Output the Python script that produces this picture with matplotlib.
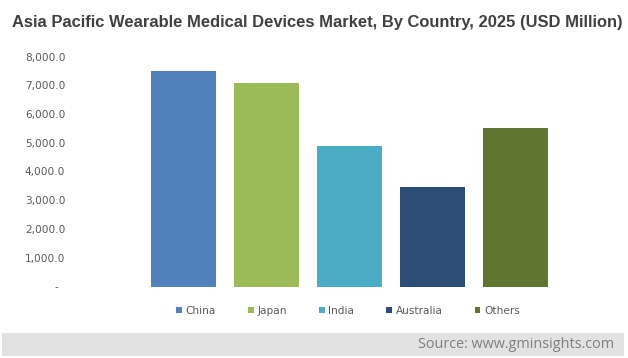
import matplotlib
matplotlib.use("Agg")
import matplotlib.pyplot as plt
from matplotlib.patches import Rectangle
from matplotlib.ticker import FuncFormatter, MultipleLocator
import numpy as np

countries = ["China", "Japan", "India", "Australia", "Others"]
values = [7500, 7080, 4900, 3450, 5500]
colors = ["#4F81BD", "#9BBB59", "#4BACC6", "#2C4D75", "#5F7530"]

title = "Asia Pacific Wearable Medical Devices Market, By Country, 2025 (USD Million)"
source = "Source: www.gminsights.com"

W, H = 628, 358
fig = plt.figure(figsize=(W / 100, H / 100), dpi=100)

ax_l, ax_r = 100, 600
ax_b, ax_t = 286.5, 56.5
ax = fig.add_axes([ax_l / W, (H - ax_b) / H, (ax_r - ax_l) / W, (ax_b - ax_t) / H])

unit = 83.0
c0 = 183.5
ax.set_xlim(-(c0 - ax_l) / unit, (ax_r - c0) / unit)
ax.set_ylim(0, 8000)

x = np.arange(len(countries))
bars = ax.bar(x, values, width=65 / unit, color=colors)
for b, lab in zip(bars.patches, countries):
    b.set_label(lab)

for s in ax.spines.values():
    s.set_visible(False)
ax.set_xticks([])
ax.yaxis.set_major_locator(MultipleLocator(1000))
ax.yaxis.set_major_formatter(FuncFormatter(lambda v, p: "-  " if v == 0 else f"{v:,.1f}"))
ax.tick_params(axis="y", length=0, pad=25, labelsize=7.6, labelcolor="#595959")

leg = fig.legend(handles=bars.patches, loc="center", bbox_to_anchor=(348 / W, 1 - 311 / H),
                 ncol=5, frameon=False, fontsize=7.6, labelcolor="#595959",
                 handlelength=0.55, handleheight=0.55, handletextpad=0.35,
                 columnspacing=3.02, borderaxespad=0)

fig.text(317 / W, 1 - 22 / H, title, ha="center", va="center", fontsize=11.9,
         fontweight="bold", family="Liberation Sans", color="#404040")

fig.patches.append(Rectangle((2 / W, 1 - 356 / H), 622 / W, 23 / H, transform=fig.transFigure,
                             facecolor="#E2E2E2", edgecolor="none", zorder=0))
fig.text(614 / W, 1 - 344.5 / H, source, ha="right", va="center", fontsize=10.4,
         family="Open Sans", color="#7F7F7F")

fig.savefig("out.png", dpi=100)
